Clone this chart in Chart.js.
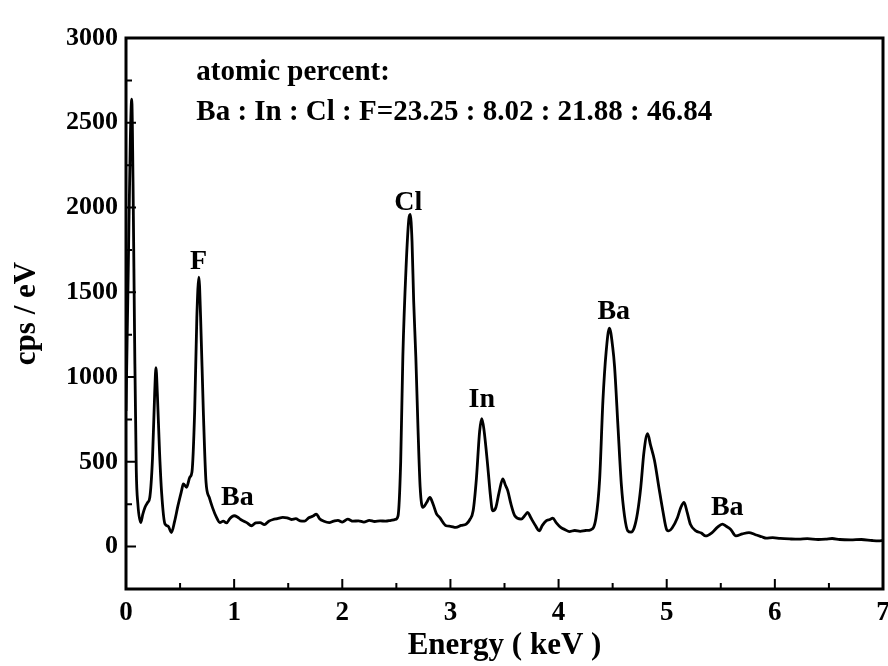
<!DOCTYPE html>
<html>
<head>
<meta charset="utf-8">
<script src="https://cdn.jsdelivr.net/npm/chart.js@4.4.1/dist/chart.umd.min.js"></script>
<style>
  html, body { margin: 0; padding: 0; background: #fff; }
  #wrap { width: 888px; height: 666px; }
</style>
</head>
<body>
<div id="wrap"><canvas id="c"></canvas></div>
<script>
// EDS spectrum (energy in keV, counts in cps/eV)
const energy = [
  0.0, 0.02, 0.04, 0.053, 0.065, 0.08, 0.095, 0.11, 0.136, 0.155, 0.175, 0.20, 0.22, 0.245, 0.265, 0.277,
  0.29, 0.31, 0.33, 0.36, 0.39, 0.42, 0.45, 0.48, 0.514, 0.53, 0.56, 0.59, 0.61, 0.635, 0.655, 0.674,
  0.69, 0.715, 0.74, 0.77, 0.80, 0.837, 0.868, 0.90, 0.93, 0.96, 1.00, 1.03, 1.06, 1.09, 1.12, 1.16,
  1.20, 1.24, 1.28, 1.32, 1.36, 1.40, 1.45, 1.49, 1.53, 1.57, 1.61, 1.65, 1.69, 1.73, 1.76, 1.79,
  1.83, 1.88, 1.92, 1.96, 2.00, 2.05, 2.10, 2.15, 2.20, 2.25, 2.30, 2.35, 2.40, 2.45, 2.49, 2.515,
  2.54, 2.56, 2.59, 2.615, 2.628, 2.645, 2.66, 2.68, 2.70, 2.72, 2.745, 2.78, 2.81, 2.84, 2.87, 2.90,
  2.96, 3.00, 3.05, 3.10, 3.146, 3.18, 3.21, 3.24, 3.27, 3.29, 3.31, 3.346, 3.37, 3.39, 3.42, 3.45,
  3.484, 3.51, 3.53, 3.56, 3.595, 3.654, 3.69, 3.715, 3.74, 3.76, 3.79, 3.82, 3.85, 3.885, 3.92, 3.946,
  3.98, 4.02, 4.06, 4.10, 4.15, 4.20, 4.25, 4.30, 4.346, 4.38, 4.41, 4.44, 4.47, 4.50, 4.518, 4.55,
  4.58, 4.61, 4.64, 4.67, 4.70, 4.73, 4.76, 4.79, 4.823, 4.85, 4.887, 4.93, 4.964, 5.00, 5.02, 5.05,
  5.10, 5.13, 5.16, 5.19, 5.22, 5.27, 5.32, 5.36, 5.42, 5.47, 5.515, 5.55, 5.59, 5.64, 5.70, 5.76,
  5.82, 5.88, 5.92, 5.98, 6.05, 6.15, 6.22, 6.30, 6.40, 6.47, 6.53, 6.60, 6.70, 6.80, 6.90, 6.96, 7.0
];
const counts = [
  800, 1600, 2400, 2640, 2150, 1200, 450, 250, 142, 190, 231, 260, 290, 520, 900, 1055,
  900, 560, 312, 134, 120, 83, 150, 240, 330, 370, 350, 409, 440, 800, 1350, 1590,
  1350, 800, 380, 290, 230, 172, 142, 150, 140, 165, 182, 175, 160, 150, 140, 123,
  140, 142, 130, 150, 160, 165, 172, 170, 160, 165, 152, 150, 170, 180, 192, 165,
  150, 142, 150, 155, 145, 162, 150, 152, 145, 155, 148, 152, 150, 155, 160, 180,
  500, 1120, 1650, 1930, 1960, 1800, 1450, 1120, 700, 350, 231, 260, 290, 250, 195, 172,
  123, 120, 113, 125, 133, 160, 211, 400, 680, 755, 690, 468, 300, 211, 231, 320,
  400, 360, 330, 250, 182, 162, 185, 202, 175, 152, 120, 93, 125, 152, 160, 168,
  140, 113, 100, 89, 95, 90, 95, 100, 170, 400, 860, 1150, 1289, 1180, 1060, 700,
  370, 180, 93, 85, 113, 200, 350, 560, 666, 600, 508, 340, 212, 100, 93, 110,
  172, 230, 261, 200, 130, 93, 80, 63, 83, 115, 133, 120, 103, 63, 75, 83,
  70, 58, 50, 53, 48, 45, 44, 47, 42, 44, 48, 42, 40, 42, 36, 34, 36
];

// peak labels (anchored in data coordinates)
const peakLabels = [
  { text: 'F',  e: 0.67, c: 1680 },
  { text: 'Ba', e: 1.03, c: 290 },
  { text: 'Cl', e: 2.61, c: 2030 },
  { text: 'In', e: 3.29, c: 865 },
  { text: 'Ba', e: 4.51, c: 1385 },
  { text: 'Ba', e: 5.56, c: 230 }
];
const noteLines = ['atomic percent:', 'Ba : In : Cl : F=23.25 : 8.02 : 21.88 : 46.84'];

const SERIF = '"Liberation Serif", "Times New Roman", serif';

const framePlugin = {
  id: 'frame',
  afterDatasetsDraw(chart) {
    const { ctx, chartArea: a, scales: { x, y } } = chart;
    ctx.save();
    ctx.strokeStyle = '#000';
    ctx.lineWidth = 2;
    ctx.beginPath();
    x.ticks.forEach(t => {
      const px = x.getPixelForValue(t.value);
      const len = Number.isInteger(t.value) ? 10 : 6;
      ctx.moveTo(px, a.bottom);
      ctx.lineTo(px, a.bottom - len);
    });
    y.ticks.forEach(t => {
      const py = y.getPixelForValue(t.value);
      const len = t.value % 500 === 0 ? 10 : 6;
      ctx.moveTo(a.left, py);
      ctx.lineTo(a.left + len, py);
    });
    ctx.stroke();
    ctx.lineWidth = 3;
    ctx.strokeRect(a.left, a.top, a.right - a.left, a.bottom - a.top);

    ctx.fillStyle = '#000';
    ctx.font = 'bold 28px ' + SERIF;
    ctx.textAlign = 'center';
    ctx.textBaseline = 'middle';
    peakLabels.forEach(l => ctx.fillText(l.text, x.getPixelForValue(l.e), y.getPixelForValue(l.c)));

    ctx.font = 'bold 29px ' + SERIF;
    ctx.textAlign = 'left';
    ctx.fillText(noteLines[0], x.getPixelForValue(0.65), y.getPixelForValue(2795));
    ctx.fillText(noteLines[1], x.getPixelForValue(0.65), y.getPixelForValue(2560));
    ctx.restore();
  }
};

new Chart(document.getElementById('c'), {
  type: 'line',
  data: {
    datasets: [{
      data: energy.map((e, i) => ({ x: e, y: counts[i] })),
      borderColor: '#000',
      borderWidth: 2.8,
      pointRadius: 0,
      cubicInterpolationMode: 'monotone',
      fill: false
    }]
  },
  options: {
    responsive: true,
    maintainAspectRatio: false,
    animation: false,
    layout: { padding: { top: 38, right: 5, left: 0, bottom: 0 } },
    plugins: { legend: { display: false }, tooltip: { enabled: false } },
    scales: {
      x: {
        type: 'linear',
        min: 0,
        max: 7,
        grid: { display: false, drawTicks: false },
        border: { display: false },
        ticks: {
          stepSize: 0.5,
          padding: 8,
          color: '#000',
          font: { family: SERIF, weight: 'bold', size: 27 },
          callback: v => Number.isInteger(v) ? v : ''
        },
        title: {
          display: true,
          text: 'Energy ( keV )',
          color: '#000',
          font: { family: SERIF, weight: 'bold', size: 31 },
          padding: { top: 0, bottom: 1 }
        },
        afterFit(s) { s.height = 77; s.paddingLeft = 0; s.paddingRight = 0; }
      },
      y: {
        min: -250,
        max: 3000,
        grid: { display: false, drawTicks: false },
        border: { display: false },
        ticks: {
          stepSize: 250,
          padding: 8,
          color: '#000',
          font: { family: SERIF, weight: 'bold', size: 26 },
          callback: v => v % 500 === 0 ? v : ''
        },
        title: {
          display: true,
          text: 'cps / eV',
          color: '#000',
          font: { family: SERIF, weight: 'bold', size: 31 },
          padding: { top: 8, bottom: 0 }
        },
        afterFit(s) { s.width = 126; s.paddingTop = 0; s.paddingBottom = 0; }
      }
    }
  },
  plugins: [framePlugin]
});
</script>
</body>
</html>
